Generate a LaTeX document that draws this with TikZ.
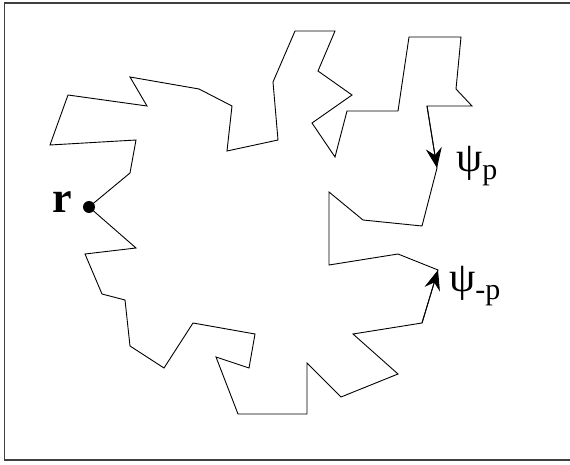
\documentclass[tikz,border=0pt]{standalone}
\usepackage{fontspec}
\setmainfont{Liberation Serif}
\usepackage{tikz}
\usetikzlibrary{arrows.meta}

\tikzset{
	walk/.style={line width=0.9pt, line join=miter},
	flow/.style={walk, -{Stealth[length=20pt, width=16pt, inset=7pt]}},
	lab/.style={inner sep=0pt, anchor=base west}
}

\begin{document}
\begin{tikzpicture}[x=1pt, y=-1pt]
	\useasboundingbox (0,0) rectangle (570,465);
	% frame, open on the right
	\draw[line width=1.4pt, black!75] (575,3) -- (4.5,3) -- (4.5,460) -- (575,460);

	% closed walk through r
	\draw[walk] (89,207) -- (130,173) -- (136,140) -- (50,145) -- (68,95)
		-- (147,106) -- (130,77) -- (199,89) -- (232,106) -- (227,151)
		-- (278,140) -- (273,82) -- (295,31) -- (335,31) -- (318,71)
		-- (352,95) -- (312,123) -- (335,157) -- (347,111) -- (398,111)
		-- (409,37) -- (461,37) -- (456,89) -- (472,106) -- (427,106)
		-- (437,168) -- (422,226) -- (363,220) -- (329,192) -- (329,265)
		-- (398,254) -- (438,270) -- (422,323) -- (353,334) -- (398,374)
		-- (341,397) -- (307,363) -- (307,414) -- (238,414) -- (216,357)
		-- (249,368) -- (255,334) -- (193,323) -- (164,368) -- (130,346)
		-- (125,300) -- (102,294) -- (85,254) -- (136,248) -- cycle;

	% directions at the two ends
	\draw[flow] (427,106) -- (437,168);
	\draw[flow] (422,323) -- (438,270);

	\fill (89,207) circle (6pt);
	\node[lab] (r) at (52,213) {\fontsize{44}{44}\selectfont\bfseries r};
	\node[lab] (psip) at (456,172) {\fontsize{42}{42}\selectfont ψ\raisebox{-8pt}{\fontsize{30}{30}\selectfont p}};
	\node[lab] (psim) at (449,291) {\fontsize{42}{42}\selectfont ψ\raisebox{-8pt}{\fontsize{30}{30}\selectfont -p}};
\end{tikzpicture}
\end{document}
